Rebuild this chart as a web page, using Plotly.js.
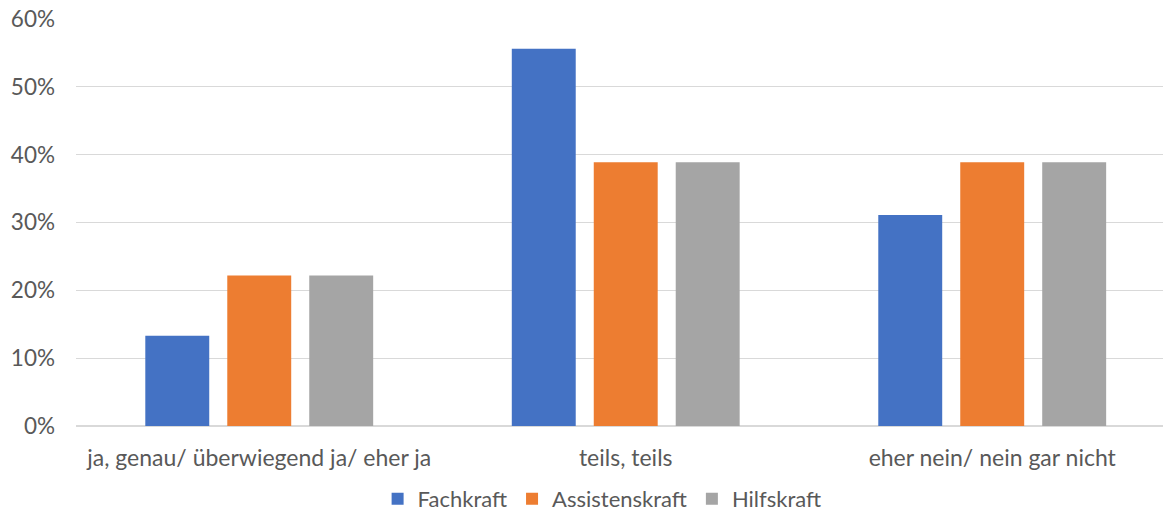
<!DOCTYPE html>
<html>
<head>
<meta charset="utf-8">
<script src="https://cdn.plot.ly/plotly-3.0.1.min.js"></script>
<style>
  html, body { margin: 0; padding: 0; background: #ffffff; }
  #chart { width: 1163px; height: 520px; }
</style>
</head>
<body>
<div id="chart"></div>
<script>
// Antwortkategorien auf der x-Achse
const categories = ["ja, genau/ überwiegend ja/ eher ja", "teils, teils", "eher nein/ nein gar nicht"];

// Anteile je Beschäftigtengruppe (als Bruchteil von 1)
const fachkraft = [0.133, 0.556, 0.311];
const assistenskraft = [0.222, 0.389, 0.389];
const hilfskraft = [0.222, 0.389, 0.389];

const seriesNames = ["Fachkraft", "Assistenskraft", "Hilfskraft"];
const seriesColors = ["#4472c4", "#ed7d31", "#a5a5a5"];

const font = "Lato, 'Liberation Sans', sans-serif";

const traces = [fachkraft, assistenskraft, hilfskraft].map((vals, i) => ({
  type: "bar",
  name: seriesNames[i],
  x: categories,
  y: vals,
  marker: { color: seriesColors[i], line: { width: 0 } },
  hoverinfo: "x+y+name"
}));

const layout = {
  width: 1163,
  height: 520,
  margin: { l: 76, r: 0, t: 19, b: 94 },
  paper_bgcolor: "#ffffff",
  plot_bgcolor: "#ffffff",
  barmode: "group",
  bargap: 0.329,
  bargroupgap: 0.22,
  font: { family: font, size: 22, color: "#595959" },
  xaxis: {
    type: "category",
    range: [-0.5, 2.466],
    showgrid: false,
    zeroline: false,
    showline: false,
    ticks: "",
    ticklabelstandoff: 16,
    tickfont: { family: font, size: 23, color: "#595959" }
  },
  yaxis: {
    range: [0, 0.6],
    dtick: 0.1,
    tickformat: ".0%",
    showgrid: true,
    gridcolor: "#d9d9d9",
    gridwidth: 1.3,
    zeroline: true,
    zerolinecolor: "#d9d9d9",
    zerolinewidth: 1.3,
    showline: false,
    ticks: "",
    ticklabelstandoff: 20,
    tickfont: { family: font, size: 22.5, color: "#595959" }
  },
  showlegend: true,
  legend: {
    orientation: "h",
    x: 0.484,
    xanchor: "center",
    xref: "paper",
    yref: "container",
    y: 0,
    yanchor: "bottom",
    font: { family: font, size: 22, color: "#595959" },
    itemwidth: 30,
    traceorder: "normal"
  }
};

Plotly.newPlot("chart", traces, layout, { displayModeBar: false, staticPlot: true });
</script>
</body>
</html>
